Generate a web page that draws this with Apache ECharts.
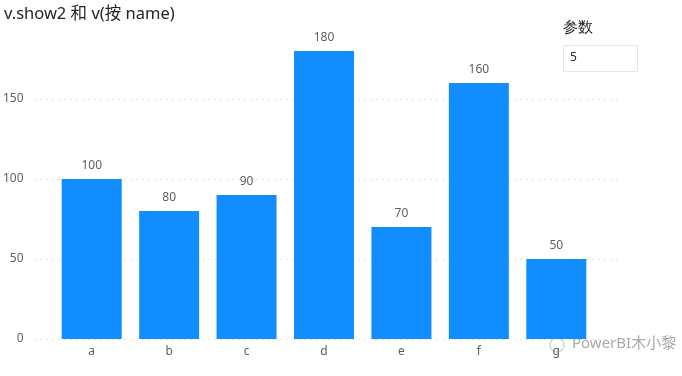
<!DOCTYPE html>
<html>
<head>
<meta charset="utf-8">
<script src="https://cdn.jsdelivr.net/npm/echarts@6/dist/echarts.min.js"></script>
<style>
  html, body { margin: 0; padding: 0; background: #fff; }
  #main { width: 682px; height: 376px; }
</style>
</head>
<body>
<div id="main"></div>
<script>
// 类别与数值
const categories = ['a', 'b', 'c', 'd', 'e', 'f', 'g']
const values = [100, 80, 90, 180, 70, 160, 50]
const yTicks = [0, 50, 100, 150]
const paramValue = '5'

const font = '"Noto Sans", "Noto Sans CJK SC", sans-serif'
const chart = echarts.init(document.getElementById('main'))

const option = {
  animation: false,
  textStyle: { fontFamily: font },
  title: {
    text: 'v.show2 和 v(按 name)',
    left: -1,
    top: 1,
    textStyle: { fontSize: 16.5, fontWeight: 'normal', color: '#252423', fontFamily: font }
  },
  // grid 0: 网格线和 y 轴标签; grid 1: 柱子
  grid: [
    { left: 31, right: 62, top: 19, bottom: 37 },
    { left: 53, right: 87, top: 19, bottom: 37 }
  ],
  xAxis: [
    { gridIndex: 0, type: 'value', min: 0, max: 1, show: false },
    {
      gridIndex: 1,
      type: 'category',
      data: categories,
      axisLine: { show: false },
      axisTick: { show: false },
      axisLabel: { color: '#605e5c', fontSize: 12, margin: 7 }
    }
  ],
  yAxis: [
    {
      gridIndex: 0,
      type: 'value',
      min: 0,
      max: 200,
      interval: 50,
      axisLine: { show: false },
      axisTick: { show: false },
      axisLabel: {
        color: '#605e5c',
        fontSize: 12,
        margin: 11,
        formatter: v => (yTicks.includes(v) ? String(v) : '')
      },
      splitLine: {
        show: true,
        showMaxLine: false,
        lineStyle: { color: '#c8c6c4', type: [1, 5], width: 1 }
      }
    },
    { gridIndex: 1, type: 'value', min: 0, max: 200, show: false }
  ],
  series: [
    {
      type: 'bar',
      xAxisIndex: 1,
      yAxisIndex: 1,
      data: values,
      barWidth: 60,
      itemStyle: { color: '#118DFF' },
      label: {
        show: true,
        position: 'top',
        distance: 7,
        color: '#605e5c',
        fontSize: 12
      }
    }
  ],
  graphic: [
    {
      type: 'text',
      left: 563,
      top: 20,
      style: { text: '参数', fontSize: 15, fill: '#252423', font: '15px ' + font }
    },
    {
      type: 'rect',
      shape: { x: 563.5, y: 45.5, width: 74, height: 26 },
      style: { fill: '#fff', stroke: '#e6e6e6', lineWidth: 1 }
    },
    {
      type: 'text',
      left: 570,
      top: 52,
      style: { text: paramValue, font: '12px ' + font, fill: '#252423' }
    },
    {
      type: 'circle',
      shape: { cx: 557, cy: 345, r: 7 },
      style: { fill: 'none', stroke: '#bbb', lineWidth: 1 }
    },
    {
      type: 'text',
      left: 572,
      top: 336,
      style: { text: 'PowerBI木小黎', font: '15px ' + font, fill: '#9a9a9a', opacity: 0.85 }
    }
  ]
}

chart.setOption(option)
</script>
</body>
</html>
